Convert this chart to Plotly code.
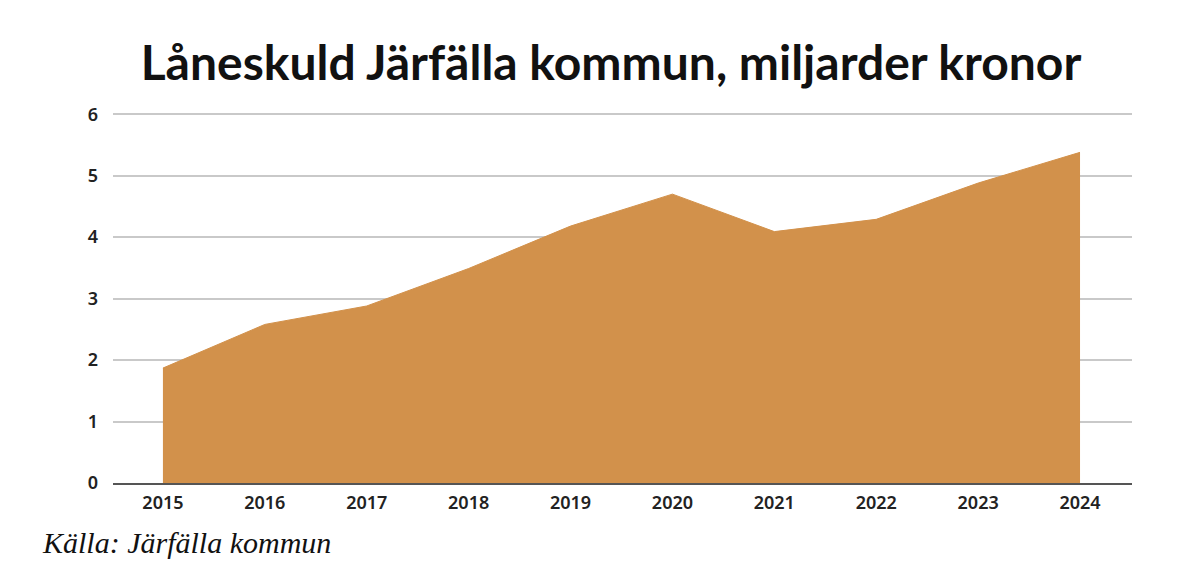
import plotly.graph_objects as go

years = [2015, 2016, 2017, 2018, 2019, 2020, 2021, 2022, 2023, 2024]
skuld = [1.87, 2.58, 2.88, 3.49, 4.18, 4.70, 4.09, 4.29, 4.88, 5.38]
y_ticks = [0, 1, 2, 3, 4, 5, 6]

FILL = "#D2914B"
SANS = "Lato, Open Sans, sans-serif"
TICKS = "Noto Sans, Open Sans, sans-serif"

fig = go.Figure(go.Scatter(
    x=years, y=skuld, mode="lines", fill="tozeroy",
    fillcolor=FILL, line=dict(color=FILL, width=1),
    hoverinfo="x+y",
))

# sidan har 8 px body-marginal, så marginalerna är förskjutna därefter
fig.update_layout(
    width=1200, height=588,
    paper_bgcolor="white", plot_bgcolor="white",
    margin=dict(l=105, r=76, t=105, b=113),
    showlegend=False,
    title=dict(
        text="<b>Låneskuld Järfälla kommun, miljarder kronor</b>",
        x=0.5025, xanchor="center", y=0.906, yanchor="middle",
        font=dict(family=SANS, size=48, color="#111"),
    ),
    font=dict(family=SANS),
)

fig.update_xaxes(
    range=[2014.51, 2024.51], tickvals=years, ticktext=[str(y) for y in years],
    showgrid=False, zeroline=False,
    showline=True, linecolor="#555", linewidth=2,
    ticks="", ticklen=0, ticklabelstandoff=2,
    tickfont=dict(size=18, color="#222", family=TICKS, weight=600),
)
fig.update_yaxes(
    range=[0, 6.02], tickvals=y_ticks,
    showgrid=True, gridcolor="#c9c9c9", gridwidth=2,
    zeroline=False, showline=False, ticks="",
    ticklabelstandoff=14,
    tickfont=dict(size=18, color="#222", family=TICKS, weight=600),
)

fig.add_annotation(
    text="<i>Källa: Järfälla kommun</i>",
    xref="paper", yref="paper", x=-0.0716, y=-0.162,
    xanchor="left", yanchor="middle", showarrow=False,
    font=dict(family="Liberation Serif, DejaVu Serif, serif", size=30, color="#111"),
)

fig.write_html("out.html")
